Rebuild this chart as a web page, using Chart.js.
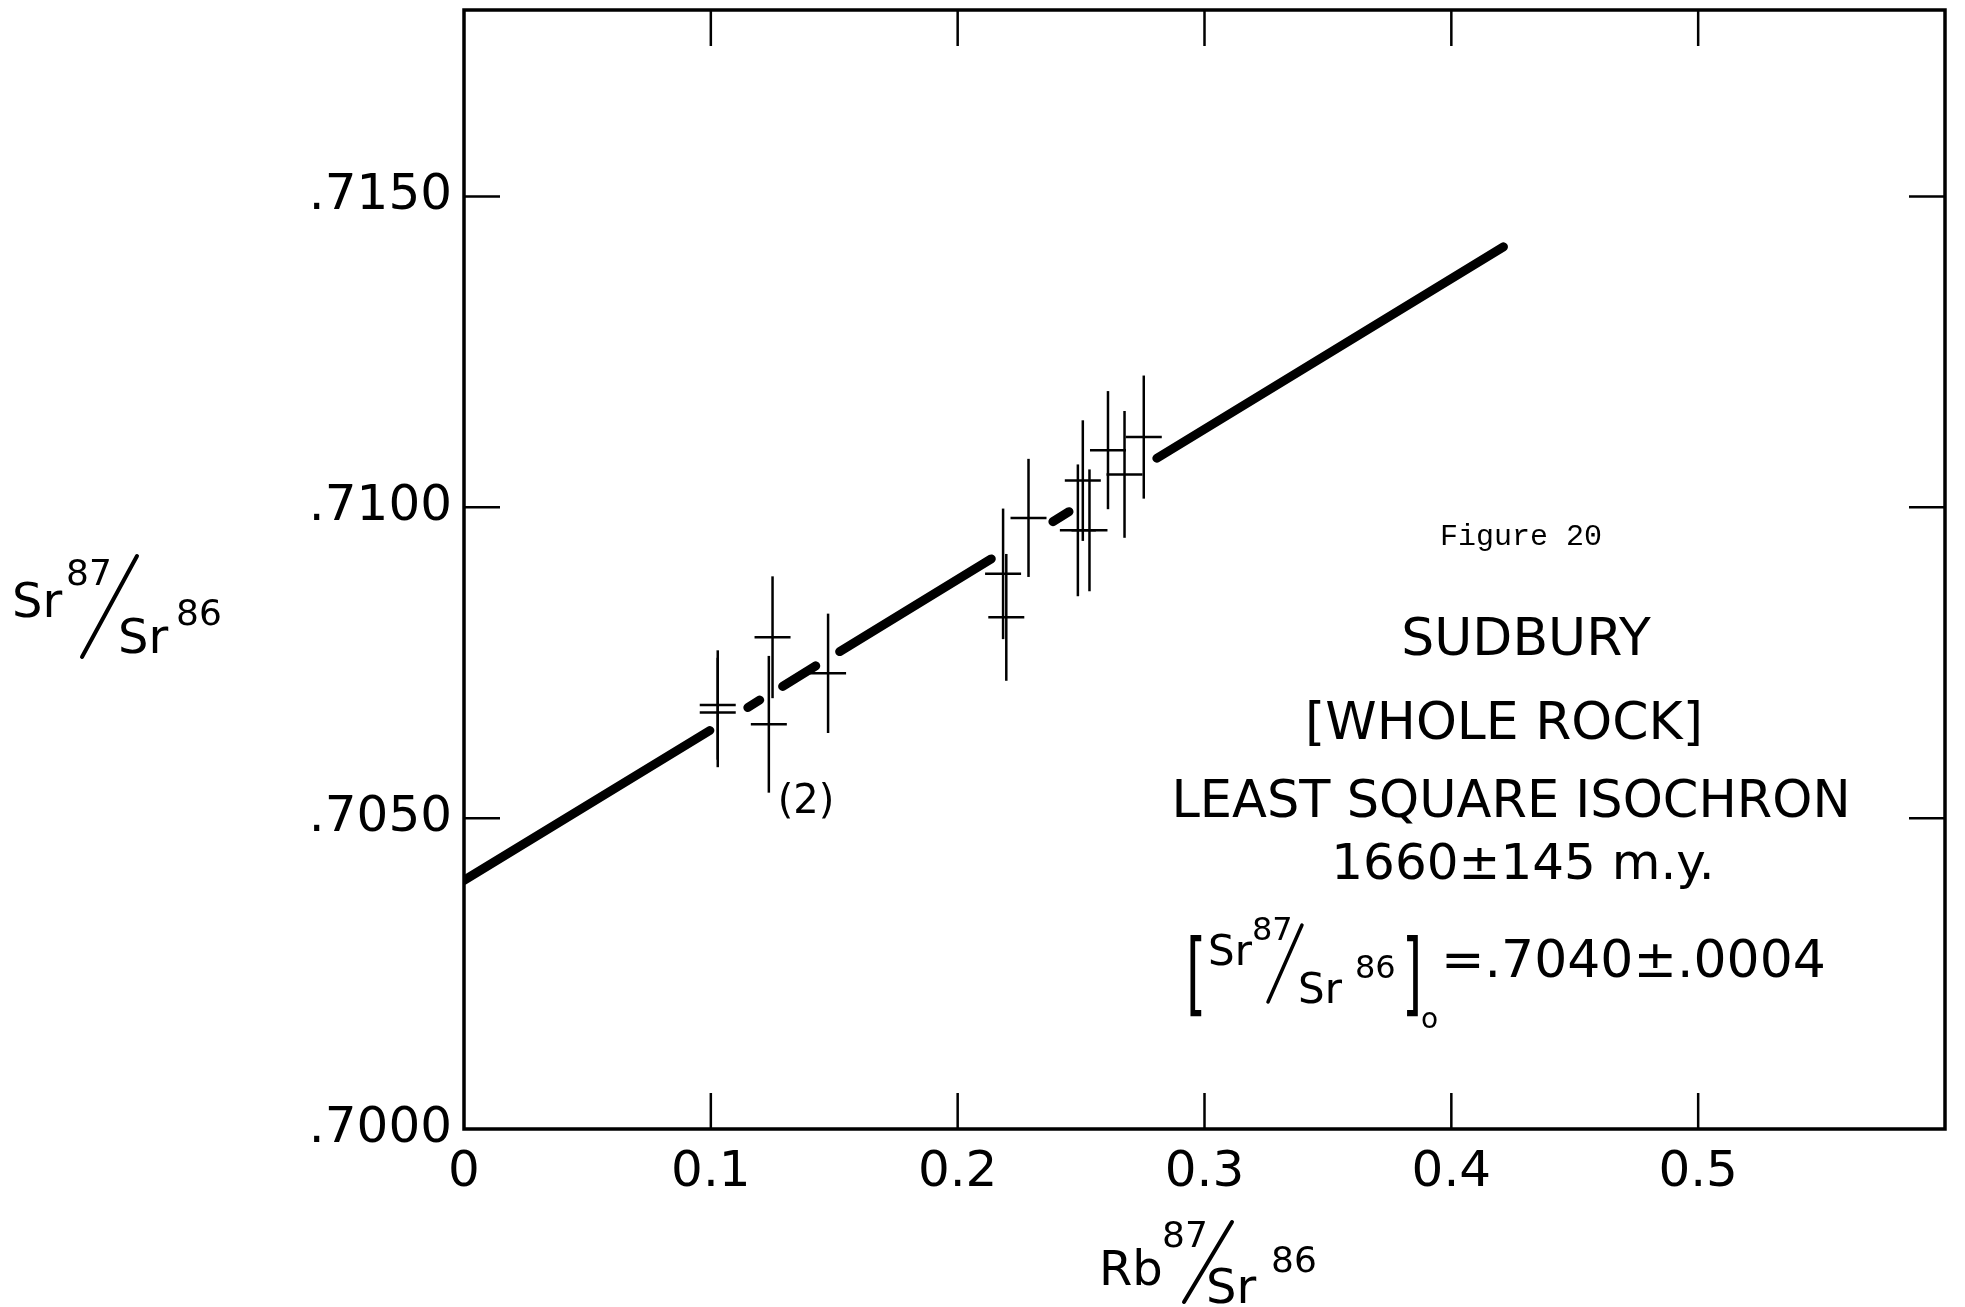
<!DOCTYPE html>
<html>
<head>
<meta charset="utf-8">
<script src="https://cdn.jsdelivr.net/npm/chart.js@4.4.1/dist/chart.umd.min.js"></script>
<style>
  html, body { margin: 0; padding: 0; background: #fff; }
  #wrap { width: 1965px; height: 1307px; position: relative; }
</style>
</head>
<body>
<div id="wrap"><canvas id="c" width="1965" height="1307"></canvas></div>
<script>
// Axis ticks
const xTicks = [0, 0.1, 0.2, 0.3, 0.4, 0.5];
const xTickLabels = ['0', '0.1', '0.2', '0.3', '0.4', '0.5'];
const yTicks = [0.700, 0.705, 0.710, 0.715];
const yTickLabels = ['.7000', '.7050', '.7100', '.7150'];

// Whole-rock samples: Rb87/Sr86, Sr87/Sr86 and the analytical uncertainty on Sr87/Sr86
const sampleRb  = [0.1028, 0.1028, 0.1250, 0.1235, 0.1475, 0.2184, 0.2197, 0.2287, 0.2487, 0.2507, 0.2534, 0.2609, 0.2676, 0.2754];
const sampleSr  = [0.70682, 0.70670, 0.70791, 0.70651, 0.70733, 0.70893, 0.70823, 0.70983, 0.70963, 0.71043, 0.70963, 0.71092, 0.71053, 0.71113];
const sampleErr = [0.00088, 0.00088, 0.00098, 0.00110, 0.00096, 0.00105, 0.00102, 0.00095, 0.00106, 0.00097, 0.00098, 0.00095, 0.00102, 0.00099];

// Isochron drawn as pieces broken where it passes the samples (start/end of each piece)
const isochronX = [0, 0.0996,  0.1150, 0.1198,  0.1291, 0.1425,  0.1522, 0.2136,  0.2386, 0.2451,  0.2807, 0.4211];
const isochronY = [0.70400, 0.70641,  0.70678, 0.70690,  0.70712, 0.70745,  0.70768, 0.70917,  0.70977, 0.70993,  0.71079, 0.71419];

const FONT = "'DejaVu Sans'";

const isoData = [];
for (let i = 0; i < isochronX.length; i += 2) {
  if (i > 0) isoData.push({ x: (isochronX[i - 1] + isochronX[i]) / 2, y: null });
  isoData.push({ x: isochronX[i], y: isochronY[i] });
  isoData.push({ x: isochronX[i + 1], y: isochronY[i + 1] });
}
const samples = sampleRb.map((x, i) => ({ x, y: sampleSr[i] }));

// Frame, inward ticks, error bars and annotation text
const decorations = {
  id: 'decorations',
  afterDatasetsDraw(chart) {
    const { ctx, scales: { x, y } } = chart;
    ctx.save();
    ctx.strokeStyle = '#000';
    ctx.lineCap = 'butt';
    ctx.lineWidth = 2.5;
    sampleRb.forEach((rb, i) => {
      const px = x.getPixelForValue(rb);
      ctx.beginPath();
      ctx.moveTo(px, y.getPixelForValue(sampleSr[i] + sampleErr[i]));
      ctx.lineTo(px, y.getPixelForValue(sampleSr[i] - sampleErr[i]));
      ctx.stroke();
    });
    ctx.restore();
  },
  afterDraw(chart) {
    const { ctx, chartArea: a, scales: { x, y } } = chart;
    ctx.save();
    ctx.strokeStyle = '#000';
    ctx.fillStyle = '#000';
    // plot frame
    ctx.lineWidth = 3.5;
    ctx.strokeRect(a.left, a.top, a.right - a.left, a.bottom - a.top);
    // inward ticks on all four sides
    const TL = 36;
    ctx.lineWidth = 2.5;
    xTicks.forEach(v => {
      if (v <= x.min || v >= x.max) return;
      const px = x.getPixelForValue(v);
      ctx.beginPath();
      ctx.moveTo(px, a.bottom); ctx.lineTo(px, a.bottom - TL);
      ctx.moveTo(px, a.top); ctx.lineTo(px, a.top + TL);
      ctx.stroke();
    });
    yTicks.forEach(v => {
      if (v <= y.min || v >= y.max) return;
      const py = y.getPixelForValue(v);
      ctx.beginPath();
      ctx.moveTo(a.left, py); ctx.lineTo(a.left + TL, py);
      ctx.moveTo(a.right, py); ctx.lineTo(a.right - TL, py);
      ctx.stroke();
    });

    ctx.textBaseline = 'alphabetic';
    const txt = (s, px, py, size, align) => {
      ctx.font = size + 'px ' + FONT;
      ctx.textAlign = align || 'left';
      ctx.fillText(s, px, py);
    };
    const bar = (x0, y0, x1, y1, w) => {
      ctx.lineWidth = w;
      ctx.lineCap = 'round';
      ctx.beginPath(); ctx.moveTo(x0, y0); ctx.lineTo(x1, y1); ctx.stroke();
    };
    // tall bracket glyph
    const tall = (s, px, py, size, sy) => {
      ctx.save();
      ctx.translate(px, py);
      ctx.scale(1, sy);
      ctx.font = size + 'px ' + FONT;
      ctx.textAlign = 'left';
      ctx.fillText(s, 0, 0);
      ctx.restore();
    };

    // y-axis title  Sr87/Sr86
    txt('Sr', 12, 617, 48);
    txt('87', 66, 585, 36);
    bar(82, 657, 137, 556, 4);
    txt('Sr', 118, 653, 48);
    txt('86', 176, 625, 36);

    // x-axis title  Rb87/Sr86
    txt('Rb', 1099, 1285, 48);
    txt('87', 1162, 1247, 36);
    bar(1184, 1302, 1232, 1222, 4);
    txt('Sr', 1206, 1303, 48);
    txt('86', 1271, 1272, 36);

    // annotation block
    ctx.font = '30px "Liberation Mono"';
    ctx.textAlign = 'center';
    ctx.fillText('Figure 20', 1521, 545);
    txt('SUDBURY', 1526, 655, 52, 'center');
    txt('[WHOLE ROCK]', 1504, 739, 52, 'center');
    txt('LEAST SQUARE ISOCHRON', 1511, 817, 51, 'center');
    txt('1660\u00B1145 m.y.', 1523, 879, 50, 'center');

    tall('[', 1186, 1004, 52, 1.75);
    txt('Sr', 1208, 965, 42);
    txt('87', 1252, 940, 32);
    bar(1268, 1002, 1302, 925, 3.5);
    txt('Sr', 1298, 1003, 42);
    txt('86', 1355, 978, 32);
    tall(']', 1402, 1004, 52, 1.75);
    txt('o', 1421, 1028, 28);
    txt('=.7040\u00B1.0004', 1441, 977, 52);

    txt('(2)', 806, 813, 40, 'center');
    ctx.restore();
  }
};

new Chart(document.getElementById('c').getContext('2d'), {
  type: 'scatter',
  data: {
    datasets: [
      {
        type: 'line',
        data: isoData,
        borderColor: '#000',
        borderWidth: 9,
        borderCapStyle: 'round',
        pointRadius: 0,
        spanGaps: false,
        fill: false,
        tension: 0,
        order: 2
      },
      {
        data: samples,
        pointStyle: 'line',
        pointRadius: 18,
        pointHoverRadius: 18,
        borderColor: '#000',
        backgroundColor: '#000',
        pointBorderWidth: 2.5,
        order: 1
      }
    ]
  },
  options: {
    responsive: false,
    animation: false,
    devicePixelRatio: 1,
    layout: { autoPadding: false, padding: { left: 0, top: 10, right: 20, bottom: 0 } },
    plugins: { legend: { display: false }, tooltip: { enabled: false } },
    scales: {
      x: {
        type: 'linear', min: 0, max: 0.6,
        afterBuildTicks: s => { s.ticks = xTicks.map(v => ({ value: v })); },
        afterFit: s => { s.height = 178; s.paddingLeft = 0; s.paddingRight = 0; },
        grid: { display: false, drawTicks: false },
        border: { display: false },
        ticks: {
          autoSkip: false, maxRotation: 0, padding: 14, color: '#000',
          font: { family: FONT, size: 50 },
          callback: v => { const i = xTicks.findIndex(t => Math.abs(t - v) < 1e-9); return i >= 0 ? xTickLabels[i] : ''; }
        }
      },
      y: {
        type: 'linear', min: 0.700, max: 0.718,
        afterBuildTicks: s => { s.ticks = yTicks.map(v => ({ value: v })); },
        afterFit: s => { s.width = 464; s.paddingTop = 0; s.paddingBottom = 0; },
        grid: { display: false, drawTicks: false },
        border: { display: false },
        ticks: {
          autoSkip: false, padding: 12, color: '#000',
          font: { family: FONT, size: 50 },
          callback: v => { const i = yTicks.findIndex(t => Math.abs(t - v) < 1e-9); return i >= 0 ? yTickLabels[i] : ''; }
        }
      }
    }
  },
  plugins: [decorations]
});
</script>
</body>
</html>
